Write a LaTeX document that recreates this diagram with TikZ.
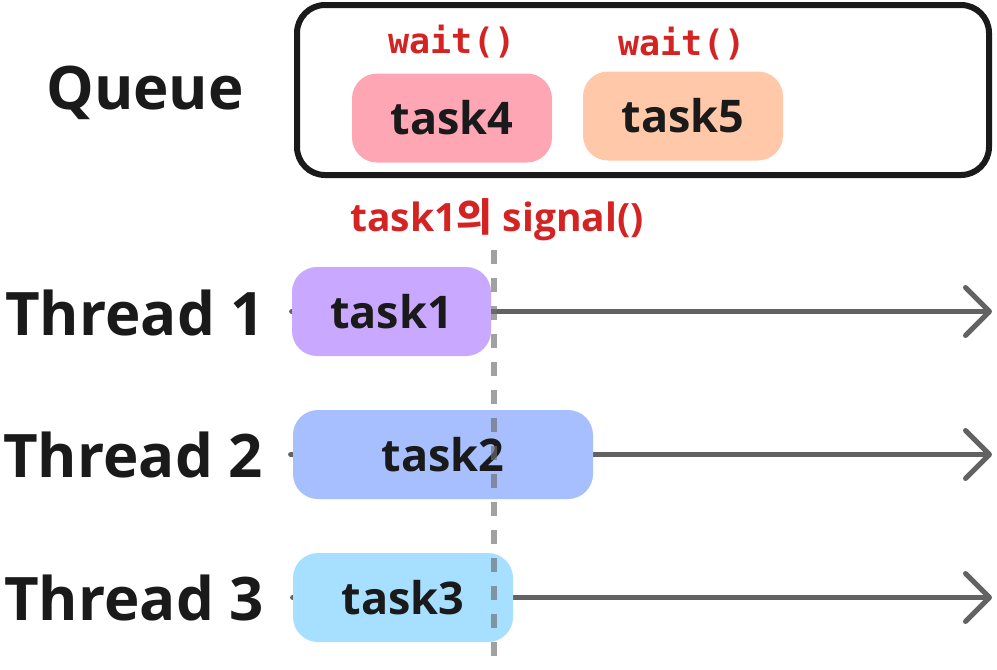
\documentclass[tikz,border=0pt]{standalone}
\usepackage{fontspec}
\setmainfont{Open Sans}
\newfontfamily\krfont{Noto Sans CJK KR}
\newfontfamily\codefont{DejaVu Sans Mono}
\usetikzlibrary{arrows.meta,positioning,backgrounds}

\definecolor{ink}{HTML}{1A1A1A}
\definecolor{sigred}{HTML}{D42323}
\definecolor{lanegray}{HTML}{626262}
\definecolor{dashgray}{HTML}{6E6E6E}
\definecolor{pinkA}{HTML}{FFA6B5}
\definecolor{peachA}{HTML}{FFC8A8}
\definecolor{purpleA}{HTML}{C9A8FF}
\definecolor{blueA}{HTML}{A7BEFF}
\definecolor{skyA}{HTML}{A6DFFF}

\tikzset{
  taskbox/.style={rounded corners=12.5pt, minimum width=#1, minimum height=44.5pt,
    inner sep=0pt, text=ink, font=\fontsize{22.5}{22.5}\selectfont\bfseries},
  threadlabel/.style={inner sep=0pt, text=ink,
    font=\fontsize{30}{30}\selectfont\bfseries},
  waitlabel/.style={inner sep=0pt, text=sigred, font=\fontsize{17.5}{17.5}\selectfont\codefont\bfseries},
  lane/.style={lanegray, line width=2.5pt, line cap=round,
    -{Straight Barb[length=12pt, width=24pt, round]}},
}

\begin{document}
\begin{tikzpicture}[x=0.5pt, y=-0.5pt]
  \useasboundingbox (0,0) rectangle (997,670);

  % queue
  \node[draw=ink, line width=3pt, rounded corners=14pt, minimum width=346pt,
        minimum height=85pt, inner sep=0pt] (queue) at (643,90) {};
  \node[threadlabel] (qlabel) at (145,93) {Queue};
  \node[taskbox=100pt, fill=pinkA] (task4) at (452,118) {task4};
  \node[taskbox=100pt, fill=peachA] (task5) at (683,116) {task5};
  \node[waitlabel] (wait4) at (452,42) {wait()};
  \node[waitlabel] (wait5) at (682,44) {wait()};

  % threads
  \node[threadlabel] (th1) at (135,313) {Thread 1};
  \node[threadlabel] (th2) at (133,455) {Thread 2};
  \node[threadlabel] (th3) at (134,598) {Thread 3};

  \node[taskbox=99.5pt, fill=purpleA] (task1) at (391.5,311.5) {task1};
  \node[taskbox=150pt, fill=blueA] (task2) at (443,454.5) {task2};
  \node[taskbox=110pt, fill=skyA] (task3) at (403,597.5) {task3};

  \coordinate (end1) at (992,311.5);
  \coordinate (end2) at (992,454.5);
  \coordinate (end3) at (992,597.5);

  \begin{scope}[on background layer]
    \draw[lane] (task1.west) -- (end1);
    \draw[lane] ([xshift=-1pt]task2.west) -- (end2);
    \draw[lane] (task3.west) -- (end3);
  \end{scope}

  % signal
  \node[inner sep=0pt, text=sigred, font=\fontsize{19.5}{19.5}\selectfont\bfseries]
    (sig) at (497,220) {task1{\krfont\bfseries 의} signal()};
  \coordinate (sigtop) at (494,250);
  \coordinate (sigbot) at (494,672);
  \draw[dashgray, opacity=0.65, line width=3pt, dash pattern=on 7pt off 7pt] (sigtop) -- (sigbot);
\end{tikzpicture}
\end{document}
